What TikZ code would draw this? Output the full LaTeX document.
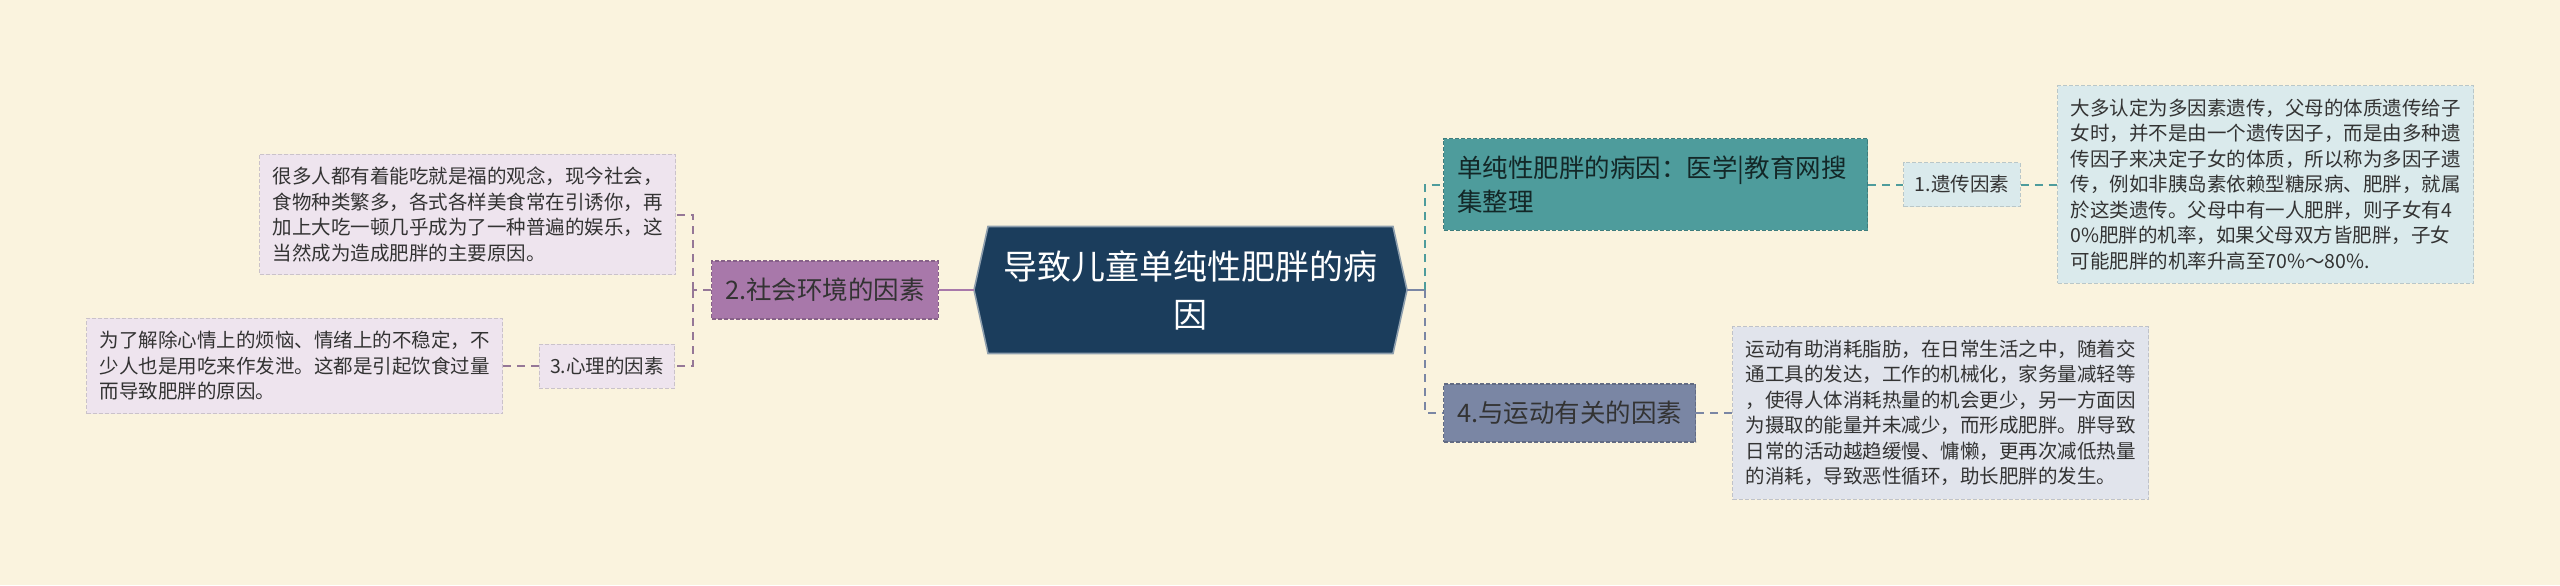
\documentclass[tikz,border=0pt]{standalone}
\usepackage{fontspec}
\setmainfont{Noto Sans CJK SC}
\usetikzlibrary{calc}
\definecolor{bgcol}{HTML}{FAF3DE}
\definecolor{rootcol}{HTML}{1B3D5C}
\definecolor{purplecol}{HTML}{A878AA}
\definecolor{purpleline}{HTML}{957797}
\definecolor{purpleleaf}{HTML}{EEE4EE}
\definecolor{tealcol}{HTML}{4E9C9C}
\definecolor{tealleaf}{HTML}{DAEAEC}
\definecolor{slatecol}{HTML}{7A86A4}
\definecolor{slateleaf}{HTML}{E1E4EC}
\newcommand{\Lf}{\fontsize{9.75}{12.75}\selectfont}
\newcommand{\Mf}{\fontsize{12.75}{17}\selectfont}
\newcommand{\Rf}{\fontsize{17}{24}\selectfont}
\tikzset{
  rootnode/.style={text=white, align=center, font=\Rf, inner sep=0pt},
  mainbox/.style={font=\Mf, text=black!80, inner xsep=6.75pt, inner ysep=8.5pt,
    minimum height=29pt, align=left, line width=0.6pt, dash pattern=on 2pt off 1pt},
  subbox/.style={font=\Lf, text=black!80, inner xsep=5.5pt, inner ysep=6pt,
    minimum height=22pt, line width=0.5pt, dash pattern=on 2pt off 1pt},
  leafbox/.style={font=\Lf, text=black!80, inner sep=6.5pt, align=left,
    line width=0.5pt, dash pattern=on 2pt off 1pt},
  link/.style={line width=1pt, dash pattern=on 4pt off 3pt},
  rootlink/.style={line width=1.4pt},
}

\begin{document}
\begin{tikzpicture}[x=0.5pt,y=-0.5pt]
\fill[bgcol] (0,0) rectangle (2560,585);
\useasboundingbox (0,0) rectangle (2560,585);

%%%%%%%%%%%%%%%%%%%%%%%%%%%%%%%%%%%%%%%%%%%%%%%%%%%%%%%%%%%%%% root
\coordinate (R) at (1190.5,290);
\coordinate (rootW) at ($(R)+(-216.5,0)$);
\coordinate (rootE) at ($(R)+(216.5,0)$);

\filldraw[fill=rootcol, draw=rootcol!50!white, line width=0.8pt] (rootW) -- ($(R)+(-202.5,-63.5)$)
  -- ($(R)+(202.5,-63.5)$) -- (rootE) -- ($(R)+(202.5,63.5)$) -- ($(R)+(-202.5,63.5)$) -- cycle;
\node[rootnode] (root) at (R) {导致儿童单纯性肥胖的病\\因};

%%%%%%%%%%%%%%%%%%%%%%%%%%%%%%%%%%%%%%%%%%%%%%%%%%%%%%%%%%%%%% left
\coordinate (hubL) at (693,290);

\node[mainbox, fill=purplecol, draw=purplecol!80!black] (n2) at (825,290) {2.社会环境的因素};
\node[leafbox, fill=purpleleaf, draw=purpleleaf!85!black, anchor=east] (leafA) at (676,214.5)
  {很多人都有着能吃就是福的观念，现今社会，\\食物种类繁多，各式各样美食常在引诱你，再\\加上大吃一顿几乎成为了一种普遍的娱乐，这\\当然成为造成肥胖的主要原因。};
\node[subbox, fill=purpleleaf, draw=purpleleaf!85!black] (n3) at (607,366) {3.心理的因素};
\node[leafbox, fill=purpleleaf, draw=purpleleaf!85!black, anchor=east] (leafB) at (503,366)
  {为了解除心情上的烦恼、情绪上的不稳定，不\\少人也是用吃来作发泄。这都是引起饮食过量\\而导致肥胖的原因。};

\draw[rootlink, purplecol] (rootW) -- (n2.east);
\draw[link, purpleline] (n2.west) -- (hubL);
\draw[link, purpleline] (hubL) |- (leafA.east);
\draw[link, purpleline] (hubL) |- (n3.east);
\draw[link, purpleline] (n3.west) -- (leafB.east);

%%%%%%%%%%%%%%%%%%%%%%%%%%%%%%%%%%%%%%%%%%%%%%%%%%%%%%%%%%%%%% right
\coordinate (hubR) at (1425,290);

\node[mainbox, fill=tealcol, draw=tealcol!80!black, text=black!75!tealcol, text width=198.5pt, anchor=west] (n1) at (1443,184.5)
  {单纯性肥胖的病因：医学|教育网搜\\集整理};
\node[subbox, fill=tealleaf, draw=tealleaf!85!black] (g1) at (1962,184.5) {1.遗传因素};
\node[leafbox, fill=tealleaf, draw=tealleaf!85!black, anchor=west] (leafC) at (2057,184.5)
  {大多认定为多因素遗传，父母的体质遗传给子\\女时，并不是由一个遗传因子，而是由多种遗\\传因子来决定子女的体质，所以称为多因子遗\\传，例如非胰岛素依赖型糖尿病、肥胖，就属\\於这类遗传。父母中有一人肥胖，则子女有4\\0\%肥胖的机率，如果父母双方皆肥胖，子女\\可能肥胖的机率升高至70\%～80\%.};
\node[mainbox, fill=slatecol, draw=slatecol!80!black, anchor=west] (n4) at (1443,413) {4.与运动有关的因素};
\node[leafbox, fill=slateleaf, draw=slateleaf!85!black, anchor=west] (leafD) at (1732,413)
  {运动有助消耗脂肪，在日常生活之中，随着交\\通工具的发达，工作的机械化，家务量减轻等\\，使得人体消耗热量的机会更少，另一方面因\\为摄取的能量并未减少，而形成肥胖。胖导致\\日常的活动越趋缓慢、慵懒，更再次减低热量\\的消耗，导致恶性循环，助长肥胖的发生。};

\draw[rootlink, slatecol] (rootE) -- (hubR);
\draw[link, tealcol] (hubR) |- (n1.west);
\draw[link, slatecol] (hubR) |- (n4.west);
\draw[link, tealcol] (n1.east) -- (g1.west);
\draw[link, tealcol] (g1.east) -- (leafC.west);
\draw[link, slatecol] (n4.east) -- (leafD.west);

\end{tikzpicture}
\end{document}
